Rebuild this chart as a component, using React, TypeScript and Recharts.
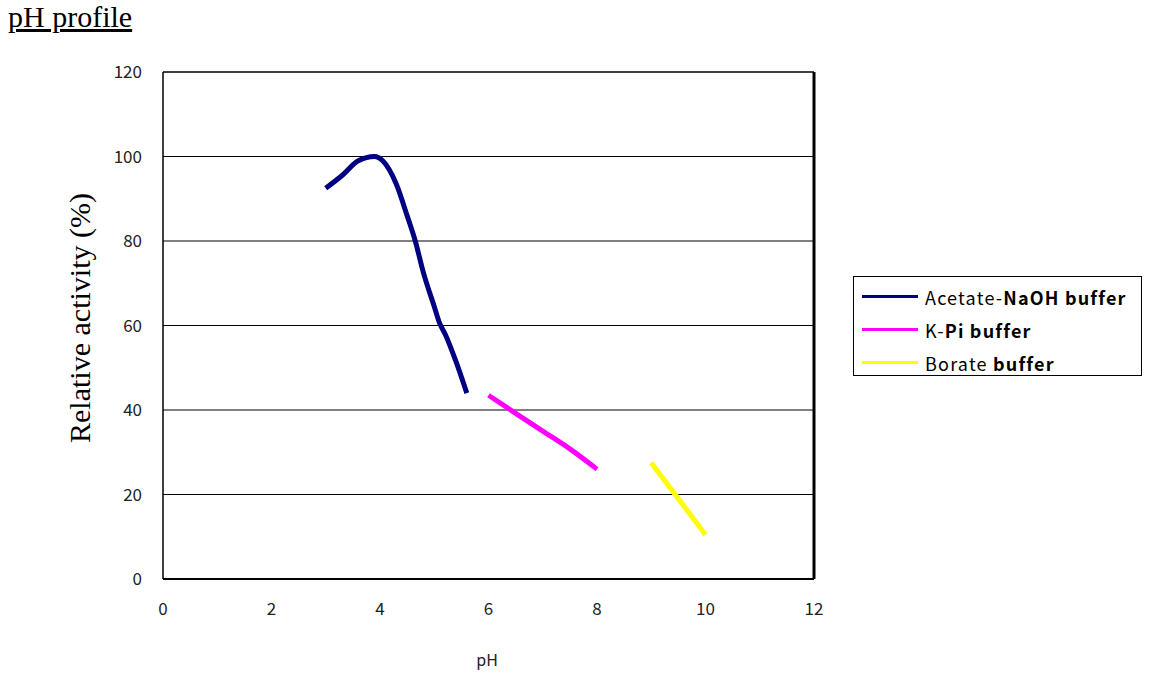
import { LineChart, Line, XAxis, YAxis, CartesianGrid, ReferenceLine } from "recharts";

// pH profile data
const acetatePh = [3.0, 3.3, 3.6, 3.9, 4.05, 4.3, 4.5, 4.65, 4.8, 5.0, 5.1, 5.2, 5.4, 5.6];
const acetateAct = [92.5, 95.5, 99, 100, 99, 93.5, 86, 80, 72.5, 64.5, 60.5, 58, 51.5, 44];

const kpiPh = [6.0, 6.5, 7.0, 7.5, 8.0];
const kpiAct = [43.5, 39.2, 35, 30.8, 26];

const boratePh = [9.0, 10.0];
const borateAct = [27.5, 10.5];

const xTicks = [0, 2, 4, 6, 8, 10, 12];
const yTicks = [0, 20, 40, 60, 80, 100, 120];

const toRows = (ph: number[], act: number[]) => ph.map((p, i) => ({ ph: p, act: act[i] }));

const series = [
  { name: "Acetate-", bold: "NaOH buffer", color: "#000080", data: toRows(acetatePh, acetateAct) },
  { name: "K-", bold: "Pi buffer", color: "#ff00ff", data: toRows(kpiPh, kpiAct) },
  { name: "Borate ", bold: "buffer", color: "#ffff00", data: toRows(boratePh, borateAct) },
];

const sans = "'Noto Sans CJK JP', 'DejaVu Sans', sans-serif";
const serif = "'Liberation Serif', 'Times New Roman', serif";
const tickFont = { fontSize: 17, fill: "#222", fontFamily: sans };

// ── Legend box ─────────────────────────────────────────────────────────────
function LegendBox() {
  return (
    <div
      style={{
        position: "absolute",
        left: 853,
        top: 276,
        border: "1px solid #000",
        width: 289,
        height: 100,
        boxSizing: "border-box",
        padding: "3px 0 0 8px",
        background: "#fff",
        fontFamily: sans,
        fontSize: 18,
        letterSpacing: 1.2,
        color: "#000",
      }}
    >
      {series.map((s) => (
        <div key={s.name} style={{ display: "flex", alignItems: "center", height: 33 }}>
          <span style={{ display: "inline-block", width: 56, height: 3, background: s.color, marginRight: 7 }} />
          <span>
            {s.name}
            <b>{s.bold}</b>
          </span>
        </div>
      ))}
    </div>
  );
}

export default function App() {
  return (
    <div style={{ position: "absolute", left: 0, top: 0, width: 1149, height: 673, background: "#fff" }}>
      <div
        style={{
          position: "absolute",
          left: 8,
          top: 0,
          fontFamily: serif,
          fontSize: 30,
          textDecoration: "underline",
          color: "#000",
        }}
      >
        pH profile
      </div>

      <div
        style={{
          position: "absolute",
          left: 80,
          top: 318,
          transform: "translate(-50%, -50%) rotate(-90deg)",
          whiteSpace: "nowrap",
          fontFamily: serif,
          fontSize: 30,
          color: "#000",
        }}
      >
        Relative activity (%)
      </div>

      <div
        style={{
          position: "absolute",
          left: 487,
          top: 659,
          transform: "translate(-50%, -50%)",
          fontFamily: sans,
          fontSize: 16,
          color: "#222",
        }}
      >
        pH
      </div>

      <LineChart
        width={1149}
        height={673}
        margin={{ top: 72, right: 335, bottom: 64, left: 103 }}
        style={{ position: "absolute", left: 0, top: 0 }}
      >
        <CartesianGrid stroke="#000" strokeWidth={1} vertical={false} horizontalValues={yTicks} />
        <XAxis
          type="number"
          dataKey="ph"
          domain={[0, 12]}
          ticks={xTicks}
          tick={tickFont}
          tickLine={false}
          tickSize={0}
          tickMargin={24}
          height={30}
          axisLine={{ stroke: "#000", strokeWidth: 2 }}
          allowDuplicatedCategory={false}
        />
        <YAxis
          type="number"
          dataKey="act"
          domain={[0, 120]}
          ticks={yTicks}
          tick={tickFont}
          tickLine={false}
          tickSize={0}
          tickMargin={21}
          width={60}
          axisLine={{ stroke: "#000", strokeWidth: 1.5 }}
        />
        <ReferenceLine x={12} stroke="#000" strokeWidth={3} />
        <ReferenceLine y={120} stroke="#000" strokeWidth={1} />
        {series.map((s) => (
          <Line
            key={s.name}
            data={s.data}
            dataKey="act"
            name={s.name + s.bold}
            type="monotone"
            stroke={s.color}
            strokeWidth={5}
            dot={false}
            isAnimationActive={false}
          />
        ))}
      </LineChart>

      <LegendBox />
    </div>
  );
}
